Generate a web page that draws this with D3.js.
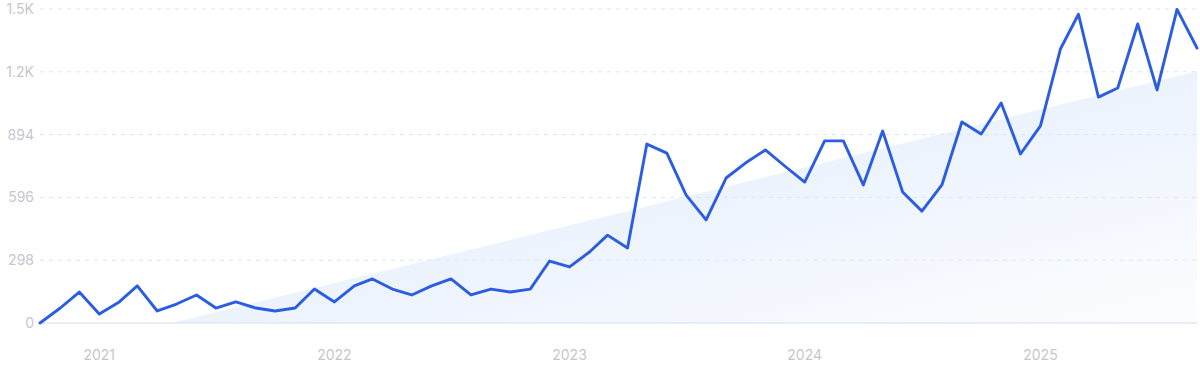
<!DOCTYPE html>
<html>
<head>
<meta charset="utf-8">
<script src="https://cdn.jsdelivr.net/npm/d3@7"></script>
<style>
  html, body { margin: 0; padding: 0; background: #fff; }
  svg { display: block; font-family: Inter, "Noto Sans", sans-serif; }
  .tick-label { fill: #c6c6cf; font-size: 14px; }
</style>
</head>
<body>
<svg id="chart" width="1200" height="372"></svg>
<script>
'use strict';

// Monthly searches, Oct 2020 -> Sep 2025
const FIRST_MONTH = new Date(2020, 9, 1);
const LAST_MONTH = new Date(2025, 8, 1);
const months = d3.timeMonth.range(FIRST_MONTH, d3.timeMonth.offset(LAST_MONTH, 1));

const values = [
  0, 70, 147, 43, 100, 176, 57, 90, 133, 71,
  100, 71, 57, 71, 161, 100, 176, 209, 161, 133,
  176, 209, 133, 161, 147, 161, 294, 266, 337, 417,
  356, 849, 806, 607, 489, 688, 759, 821, 745, 669,
  864, 864, 655, 911, 622, 531, 655, 954, 897, 1044,
  802, 935, 1300, 1465, 1072, 1115, 1419, 1106, 1488, 1305
];

const yTicks = [0, 298, 596, 894, 1192, 1490];
const yTickLabels = ['0', '298', '596', '894', '1.2K', '1.5K'];
const xTickYears = [2021, 2022, 2023, 2024, 2025];

const LEFT = 40;
const RIGHT = 1197;
const TOP = 9;
const BOTTOM = 323;

const svg = d3.select('#chart');

const x = d3.scaleTime()
  .domain([FIRST_MONTH, LAST_MONTH])
  .range([LEFT, RIGHT]);

const y = d3.scaleLinear()
  .domain([0, yTicks[yTicks.length - 1]])
  .range([BOTTOM, TOP]);

const data = months.map((d, i) => ({ date: d, value: values[i], index: i }));

// least squares trend, clipped at zero
const n = data.length;
const meanI = d3.mean(data, d => d.index);
const meanV = d3.mean(data, d => d.value);
const slope = d3.sum(data, d => (d.index - meanI) * (d.value - meanV)) /
  d3.sum(data, d => (d.index - meanI) ** 2);
const intercept = meanV - slope * meanI;
const zeroIndex = -intercept / slope;

const idxToDate = i => {
  const whole = Math.floor(i);
  const frac = i - whole;
  const a = months[whole];
  const b = d3.timeMonth.offset(a, 1);
  return new Date(+a + (b - a) * frac);
};

const trend = [
  { date: idxToDate(zeroIndex), value: 0 },
  { date: months[n - 1], value: intercept + slope * (n - 1) }
];

const defs = svg.append('defs');
const grad = defs.append('linearGradient')
  .attr('id', 'trend-fill')
  .attr('x1', 0).attr('y1', 0)
  .attr('x2', 1).attr('y2', 1);
grad.append('stop').attr('offset', '0%').attr('stop-color', '#dde9fb');
grad.append('stop').attr('offset', '100%').attr('stop-color', '#fcfdff');

// Trend area
svg.append('path')
  .datum(trend)
  .attr('fill', 'url(#trend-fill)')
  .attr('d', d3.area()
    .x(d => x(d.date))
    .y0(y(0))
    .y1(d => y(d.value)));

// Grid
const grid = svg.append('g').attr('class', 'grid');
grid.selectAll('line')
  .data(yTicks.slice(1))
  .enter()
  .append('line')
    .attr('x1', LEFT)
    .attr('x2', RIGHT)
    .attr('y1', d => y(d))
    .attr('y2', d => y(d))
    .attr('stroke', '#d9e6f9')
    .attr('stroke-width', 1)
    .attr('stroke-dasharray', '4 5');

svg.append('line')
  .attr('x1', LEFT)
  .attr('x2', RIGHT)
  .attr('y1', y(0))
  .attr('y2', y(0))
  .attr('stroke', '#e1e7f3')
  .attr('stroke-width', 1.5);

// Y labels
svg.append('g')
  .selectAll('text')
  .data(yTicks)
  .enter()
  .append('text')
    .attr('class', 'tick-label')
    .attr('x', 34)
    .attr('y', d => y(d))
    .attr('dy', '0.36em')
    .attr('text-anchor', 'end')
    .text((d, i) => yTickLabels[i]);

// X labels
svg.append('g')
  .selectAll('text')
  .data(xTickYears)
  .enter()
  .append('text')
    .attr('class', 'tick-label')
    .attr('x', d => x(new Date(d, 0, 1)))
    .attr('y', 360)
    .attr('text-anchor', 'middle')
    .text(d => d);

// Line
svg.append('path')
  .datum(data)
  .attr('fill', 'none')
  .attr('stroke', '#2b5de3')
  .attr('stroke-width', 2.9)
  .attr('stroke-linejoin', 'round')
  .attr('stroke-linecap', 'round')
  .attr('d', d3.line()
    .x(d => x(d.date))
    .y(d => y(d.value)));
</script>
</body>
</html>
